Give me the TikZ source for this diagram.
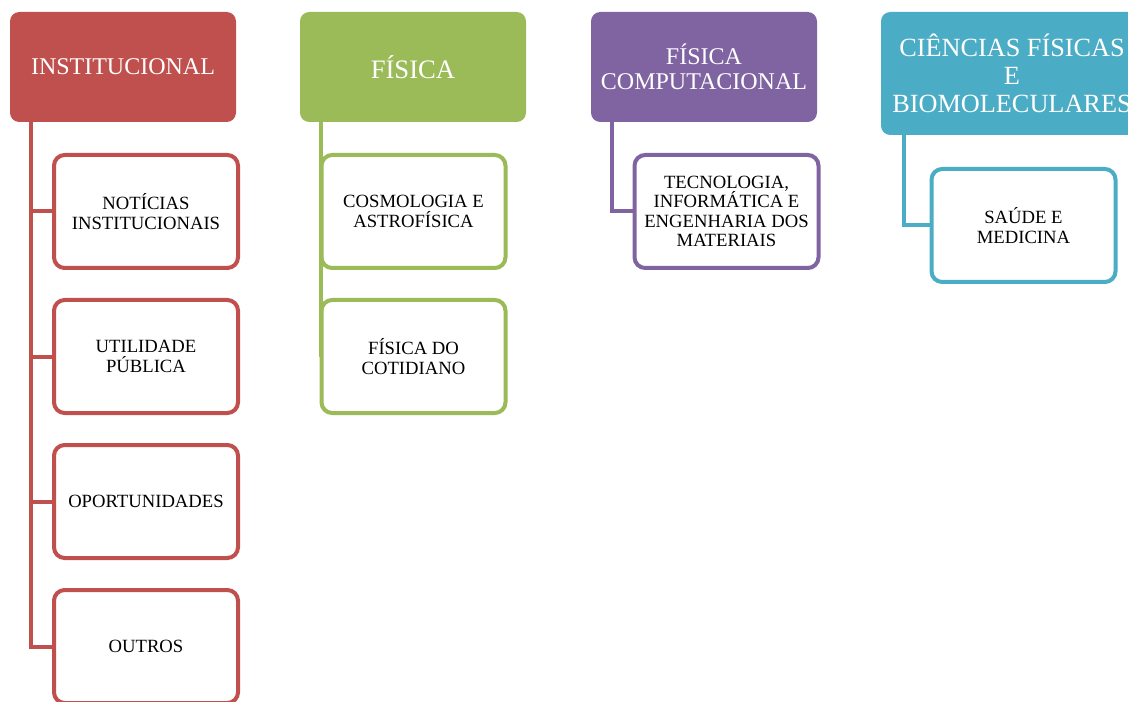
\documentclass[tikz,border=0pt]{standalone}
\usepackage{fontspec}
\setmainfont{Liberation Serif}
\definecolor{instred}{HTML}{C0504D}
\definecolor{fisgreen}{HTML}{9BBB59}
\definecolor{comppurple}{HTML}{8064A2}
\definecolor{biocyan}{HTML}{4BACC6}

\begin{document}
\begin{tikzpicture}[x=0.75pt,y=-0.75pt]
	\tikzset{head/.style={rounded corners=7pt, minimum width=169.5pt, minimum height=82.5pt, text=white, align=center, inner sep=2pt}}
	\tikzset{leaf/.style={draw, line width=3pt, fill=white, rounded corners=8pt, minimum width=138pt, minimum height=84.75pt, align=center, inner sep=2pt, font=\fontsize{14}{14.6}\selectfont}}
	\tikzset{link/.style={line width=3pt}}
	\clip (0,0) rectangle (1128,702);
	\node[head, fill=instred, font=\fontsize{18}{20}\selectfont] (inst) at (123,67) {INSTITUCIONAL};
	\node[head, fill=fisgreen, font=\fontsize{20}{22}\selectfont] (fis) at (413,67) {FÍSICA};
	\node[head, fill=comppurple, font=\fontsize{18}{18.75}\selectfont] (comp) at (704,67) {FÍSICA\\COMPUTACIONAL};
	\node[head, fill=biocyan, minimum width=196.5pt, minimum height=92.25pt, font=\fontsize{19.7}{21}\selectfont] (bio) at (1012,73.5) {CIÊNCIAS FÍSICAS\\E\\BIOMOLECULARES};
	\node[leaf, draw=instred] (noticias) at (146,211.5) {NOTÍCIAS\\INSTITUCIONAIS};
	\node[leaf, draw=instred] (utilidade) at (146,356.5) {UTILIDADE\\PÚBLICA};
	\node[leaf, draw=instred] (oport) at (146,501.5) {OPORTUNIDADES};
	\node[leaf, draw=instred] (outros) at (146,646.5) {OUTROS};
	\node[leaf, draw=fisgreen] (cosmo) at (413.5,211.5) {COSMOLOGIA E\\ASTROFÍSICA};
	\node[leaf, draw=fisgreen] (cotid) at (413.5,356.5) {FÍSICA DO\\COTIDIANO};
	\node[leaf, draw=comppurple] (tecno) at (726.5,211.5) {TECNOLOGIA,\\INFORMÁTICA E\\ENGENHARIA DOS\\MATERIAIS};
	\node[leaf, draw=biocyan] (saude) at (1023.5,225.5) {SAÚDE E\\MEDICINA};
	\draw[link, instred] ([xshift=16pt]inst.south west) |- (noticias.west);
	\draw[link, instred] ([xshift=16pt]inst.south west) |- (utilidade.west);
	\draw[link, instred] ([xshift=16pt]inst.south west) |- (oport.west);
	\draw[link, instred] ([xshift=16pt]inst.south west) |- (outros.west);
	\draw[link, fisgreen] ([xshift=16pt]fis.south west) |- (cosmo.west);
	\draw[link, fisgreen] ([xshift=16pt]fis.south west) |- (cotid.west);
	\draw[link, comppurple] ([xshift=15.75pt]comp.south west) |- (tecno.west);
	\draw[link, biocyan] ([xshift=17.6pt]bio.south west) |- (saude.west);
\end{tikzpicture}
\end{document}
